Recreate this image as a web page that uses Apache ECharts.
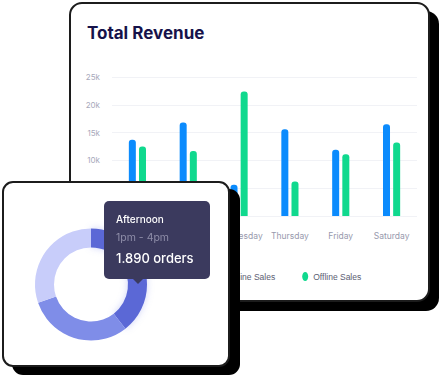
<!DOCTYPE html>
<html>
<head>
<meta charset="utf-8">
<script src="https://cdn.jsdelivr.net/npm/echarts@6/dist/echarts.min.js"></script>
<style>
  html, body { margin: 0; padding: 0; background: #fff; }
  body { width: 440px; height: 377px; position: relative; overflow: hidden; font-family: Inter, sans-serif; }
  .card { position: absolute; box-sizing: border-box; background: #fff; border: 2px solid #1c1c1c; }
  #backCard { left: 69px; top: 2px; width: 361px; height: 300px; border-radius: 13px; box-shadow: 9px 9px 0 #000; z-index: 1; }
  #frontCard { left: 2px; top: 181px; width: 228px; height: 186px; border-radius: 11px; box-shadow: 10px 8px 0 #000; z-index: 3; }
  #revenue { position: absolute; left: 0; top: 0; width: 440px; height: 377px; z-index: 2; }
  #orders { position: absolute; left: 0; top: 0; width: 440px; height: 377px; z-index: 4; }
</style>
</head>
<body>
<div class="card" id="backCard"></div>
<div id="revenue"></div>
<div class="card" id="frontCard"></div>
<div id="orders"></div>
<script>
const days = ['Monday', 'Tuesday', 'Wednesday', 'Thursday', 'Friday', 'Saturday'];
const onlineSales = [13700, 16800, 5600, 15600, 11900, 16500];
const offlineSales = [12500, 11700, 22400, 6200, 11100, 13200];

const slots = ['Afternoon', 'Evening', 'Morning'];
const slotTimes = ['1pm - 4pm', '4pm - 9pm', '8am - 1pm'];
const slotOrders = [1890, 1450, 1450];

const fontFamily = 'Inter, sans-serif';

function fmtOrders(v) {
  return String(v).replace(/\B(?=(\d{3})+(?!\d))/g, '.');
}

const revenueChart = echarts.init(document.getElementById('revenue'), null, { renderer: 'svg' });
revenueChart.setOption({
  animation: false,
  textStyle: { fontFamily: fontFamily },
  title: {
    text: 'Total Revenue',
    left: 87,
    top: 24,
    padding: 0,
    textStyle: { fontSize: 17, fontWeight: 700, color: '#16124a', fontFamily: fontFamily },
  },
  grid: { left: 112, right: 23, top: 77, bottom: 161 },
  legend: {
    left: 211,
    top: 267,
    itemWidth: 6,
    itemHeight: 9,
    itemGap: 27,
    icon: 'path://M3,0 C4.66,0 6,2 6,4.5 C6,7 4.66,9 3,9 C1.34,9 0,7 0,4.5 C0,2 1.34,0 3,0 Z',
    textStyle: { fontSize: 8.5, color: '#5b5e73', fontFamily: 'Liberation Sans, sans-serif' },
  },
  xAxis: {
    type: 'category',
    data: days,
    axisLine: { show: false },
    axisTick: { show: false },
    axisLabel: { color: '#9799ad', fontSize: 8.5, margin: 15, interval: 0 },
  },
  yAxis: {
    type: 'value',
    min: 0,
    max: 25000,
    interval: 5000,
    axisLabel: {
      color: '#a7a9bb',
      fontSize: 8,
      margin: 12,
      formatter: v => (v === 0 ? '0' : v / 1000 + 'k'),
    },
    splitLine: { lineStyle: { color: '#f1f2f6', width: 1 } },
  },
  series: [
    {
      name: 'Online Sales',
      type: 'bar',
      data: onlineSales,
      barWidth: 7,
      barGap: '45%',
      itemStyle: { color: '#0b8bfd', borderRadius: [3, 3, 0, 0] },
    },
    {
      name: 'Offline Sales',
      type: 'bar',
      data: offlineSales,
      barWidth: 7,
      itemStyle: { color: '#10d98e', borderRadius: [3, 3, 0, 0] },
    },
  ],
});

const ordersChart = echarts.init(document.getElementById('orders'));
ordersChart.setOption({
  animation: false,
  tooltip: {
    trigger: 'item',
    triggerOn: 'none',
    alwaysShowContent: true,
    transitionDuration: 0,
    position: [104, 201],
    backgroundColor: '#3b3a5e',
    borderWidth: 0,
    padding: [11, 12, 11, 12],
    extraCssText: 'border-radius:5px;box-shadow:none;width:82px;',
    formatter: p =>
      '<div style="position:relative;font-family:Inter,sans-serif;">' +
      '<div style="font-size:10px;line-height:14px;font-weight:500;color:#fff;">' + p.name + '</div>' +
      '<div style="font-size:10.5px;line-height:16px;color:#8e8da8;margin-top:4px;">' + slotTimes[p.dataIndex] + '</div>' +
      '<div style="font-size:13px;line-height:19px;font-weight:500;color:#fff;margin-top:3px;">' + fmtOrders(p.value) + ' orders</div>' +
      '</div>' +
      '<div style="position:absolute;left:29px;bottom:-5px;width:0;height:0;border-left:5px solid transparent;border-right:5px solid transparent;border-top:5px solid #3b3a5e;"></div>',
  },
  series: [
    {
      type: 'pie',
      center: [91, 284.5],
      radius: [37, 56],
      startAngle: 90,
      clockwise: true,
      label: { show: false },
      labelLine: { show: false },
      emphasis: { disabled: true },
      data: slots.map((name, i) => ({
        name: name,
        value: slotOrders[i],
        itemStyle: [
          { color: '#5b68d6', shadowBlur: 7, shadowColor: 'rgba(120,132,232,0.35)' },
          { color: '#7f8de8' },
          { color: '#c8cdfa' },
        ][i],
      })),
    },
  ],
});
ordersChart.dispatchAction({ type: 'showTip', seriesIndex: 0, dataIndex: 0 });
</script>
</body>
</html>
